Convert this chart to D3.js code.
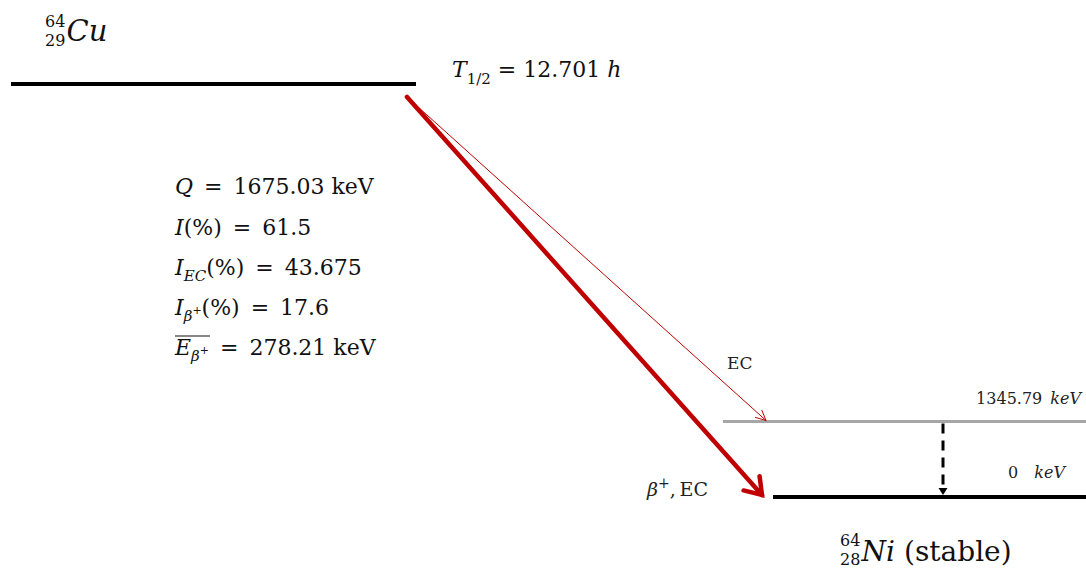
<!DOCTYPE html>
<html><head><meta charset="utf-8">
<script src="https://cdn.jsdelivr.net/npm/d3@7"></script>
<style>body{margin:0;background:#fff} svg{display:block}</style>
</head><body><svg id="chart" width="1086" height="577"></svg>
<script>
// Nuclear levels of the 64Cu -> 64Ni decay (energies in keV above 64Ni ground state)
const levelIds = ["cu64", "ni64_1345", "ni64_gs"];
const levelEnergies = [1675.03, 1345.79, 0];
const levelLabels = ["", "1345.79", "0"];

// Decay branches from the parent level
const branchTargets = ["ni64_1345", "ni64_gs"];
const branchLabels = ["EC", "β+,EC"];

// Gamma transition in the daughter
const gammaFrom = ["ni64_1345"];
const gammaTo = ["ni64_gs"];

// Summary values
const halfLife = "12.701";
const qValue = "1675.03";
const intensityTotal = "61.5";
const intensityEC = "43.675";
const intensityBeta = "17.6";
const meanBetaEnergy = "278.21";

const svg = d3.select("#chart");
const SERIF = "'DejaVu Serif', 'Liberation Serif', serif";
const RED = "#c00000";
const INK = "#111";
const EQ = "\u2002=\u2002";

// Piecewise energy scale: the drawing is not to scale, levels are spaced for legibility
const y = d3.scaleLinear()
  .domain([0, 1345.79, 1675.03])
  .range([497, 421.5, 84]);

const energyOf = Object.fromEntries(levelIds.map((id, i) => [id, levelEnergies[i]]));

// Horizontal extents and styles of each level line
const levelLayout = {
  cu64:      { x0: 11,  x1: 416,  color: "#000", width: 4 },
  ni64_1345: { x0: 723, x1: 1086, color: "#a6a6a6", width: 3 },
  ni64_gs:   { x0: 773, x1: 1086, color: "#000", width: 4 }
};

svg.selectAll("line.level")
  .data(levelIds)
  .join("line")
  .attr("class", "level")
  .attr("x1", d => levelLayout[d].x0)
  .attr("x2", d => levelLayout[d].x1)
  .attr("y1", d => y(energyOf[d]))
  .attr("y2", d => y(energyOf[d]))
  .attr("stroke", d => levelLayout[d].color)
  .attr("stroke-width", d => levelLayout[d].width);

// Level energy labels (right aligned above each daughter level)
const labelPos = { ni64_1345: { x: 1081, dy: -18 }, ni64_gs: { x: 1065, dy: -19 } };
levelIds.forEach((id, i) => {
  if (!levelLabels[i]) return;
  const t = svg.append("text")
    .attr("x", labelPos[id].x)
    .attr("y", y(energyOf[id]) + labelPos[id].dy)
    .attr("text-anchor", "end")
    .attr("font-family", SERIF)
    .attr("font-size", 16)
    .attr("fill", "#222");
  t.append("tspan").text(levelLabels[i] + (id === "ni64_gs" ? "\u2003" : "\u2002"));
  t.append("tspan").attr("font-style", "italic").text("keV");
});

// Arrow helper: shaft plus an open V head
function arrow(x0, y0, x1, y1, opt) {
  const g = svg.append("g");
  g.append("line")
    .attr("x1", x0).attr("y1", y0).attr("x2", x1).attr("y2", y1)
    .attr("stroke", opt.color).attr("stroke-width", opt.width)
    .attr("stroke-linecap", "round");
  const a = Math.atan2(y1 - y0, x1 - x0);
  const pts = [-1, 1].map(s => [
    x1 - opt.head * Math.cos(a + s * opt.spread),
    y1 - opt.head * Math.sin(a + s * opt.spread)
  ]);
  g.append("path")
    .attr("d", `M${pts[0][0]},${pts[0][1]}L${x1},${y1}L${pts[1][0]},${pts[1][1]}`)
    .attr("fill", "none")
    .attr("stroke", opt.color).attr("stroke-width", opt.width)
    .attr("stroke-linejoin", "miter").attr("stroke-linecap", "round");
}

// Decay branches from the parent level
const branchStart = { x: 407, y: y(energyOf.cu64) + 13 };
const branchStyle = {
  ni64_1345: { x: 766, width: 1, head: 11, spread: 0.45, gap: 1 },
  ni64_gs:   { x: 762, width: 4.5, head: 19, spread: 0.6, gap: 2 }
};
branchTargets.forEach(t => {
  const s = branchStyle[t];
  arrow(branchStart.x, branchStart.y, s.x, y(energyOf[t]) - s.gap,
        { color: RED, width: s.width, head: s.head, spread: s.spread });
});

// Branch labels
svg.append("text")
  .attr("x", 727).attr("y", 369)
  .attr("font-family", SERIF).attr("font-size", 17).attr("fill", "#222")
  .text(branchLabels[0]);

const bParts = branchLabels[1].split(",");
const bLabel = svg.append("text")
  .attr("x", 647).attr("y", 496)
  .attr("font-family", SERIF).attr("font-size", 19).attr("fill", "#222");
bLabel.append("tspan").attr("font-style", "italic").text(bParts[0].replace("+", ""));
bLabel.append("tspan").attr("dy", -8).attr("font-size", 14).text("+");
bLabel.append("tspan").attr("dy", 8).text(",\u2009" + bParts[1]);

// Gamma transition (dashed, small filled head)
gammaFrom.forEach((f, i) => {
  const gx = 943;
  const yTop = y(energyOf[f]) + 2;
  const yBot = y(energyOf[gammaTo[i]]) - 2;
  svg.append("line")
    .attr("x1", gx).attr("x2", gx)
    .attr("y1", yTop).attr("y2", yBot - 6)
    .attr("stroke", "#000").attr("stroke-width", 3)
    .attr("stroke-dasharray", "10,7");
  svg.append("path")
    .attr("d", `M${gx - 4.5},${yBot - 7}L${gx + 4.5},${yBot - 7}L${gx},${yBot}Z`)
    .attr("fill", "#000");
});

// Nuclide labels: mass number stacked over atomic number, then the symbol
function nuclide(x, yMass, gap, mass, z, sym, tail, size, small, symShift) {
  const n = svg.append("text").attr("x", x).attr("y", yMass)
    .attr("font-family", SERIF).attr("font-size", small).attr("fill", INK);
  n.append("tspan").text(mass);
  n.append("tspan").attr("x", x).attr("dy", gap).text(z);
  n.append("tspan").attr("x", x + small * 1.35).attr("dy", symShift)
    .attr("font-size", size).attr("font-style", "italic").text(sym);
  if (tail) n.append("tspan").attr("font-size", size).text(tail);
}
nuclide(45, 27, 19, "64", "29", "Cu", "", 29, 16, -5);
nuclide(840, 546, 19, "64", "28", "Ni", " (stable)", 28, 16, -4);

// Half-life
const hl = svg.append("text").attr("x", 452).attr("y", 77)
  .attr("font-family", SERIF).attr("font-size", 22).attr("fill", INK);
hl.append("tspan").attr("font-style", "italic").text("T");
hl.append("tspan").attr("dy", 7).attr("font-size", 15).text("1/2");
hl.append("tspan").attr("dy", -7).text(" = " + halfLife + " ");
hl.append("tspan").attr("font-style", "italic").text("h");

// Decay summary block
const sx = 175, fs = 22;
function line(yb) {
  return svg.append("text").attr("x", sx).attr("y", yb)
    .attr("font-family", SERIF).attr("font-size", fs).attr("fill", INK);
}
let t = line(194);
t.append("tspan").attr("font-style", "italic").text("Q");
t.append("tspan").text(EQ + qValue + " keV");

t = line(235);
t.append("tspan").attr("font-style", "italic").text("I");
t.append("tspan").text("(%)" + EQ + intensityTotal);

t = line(275);
t.append("tspan").attr("font-style", "italic").text("I");
t.append("tspan").attr("font-style", "italic").attr("font-size", 15).attr("dy", 6).text("EC");
t.append("tspan").attr("dy", -6).text("(%)" + EQ + intensityEC);

t = line(315);
t.append("tspan").attr("font-style", "italic").text("I");
t.append("tspan").attr("font-style", "italic").attr("font-size", 15).attr("dy", 6).text("β");
t.append("tspan").attr("font-size", 11).attr("dy", -7).text("+");
t.append("tspan").attr("dy", 1).text("(%)" + EQ + intensityBeta);

t = line(355);
t.append("tspan").attr("font-style", "italic").text("E");
t.append("tspan").attr("font-style", "italic").attr("font-size", 15).attr("dy", 6).text("β");
t.append("tspan").attr("font-size", 11).attr("dy", -7).text("+");
t.append("tspan").attr("dy", 1).text(EQ + meanBetaEnergy + " keV");
// overline spanning the mean-energy symbol
const barLen = t.node().getSubStringLength(0, 3);
svg.append("line")
  .attr("x1", sx).attr("x2", sx + barLen + 1)
  .attr("y1", 336).attr("y2", 336)
  .attr("stroke", INK).attr("stroke-width", 1.2);
</script></body></html>
